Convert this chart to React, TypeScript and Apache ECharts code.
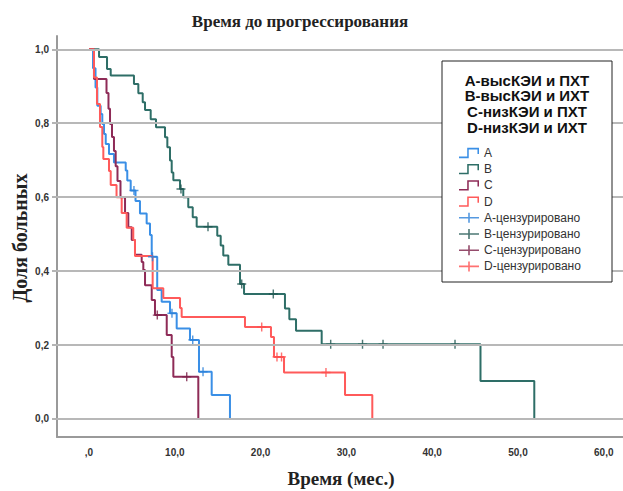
import React, { useEffect, useRef } from 'react';
import * as echarts from 'echarts';

const xTicks = [0, 10, 20, 30, 40, 50, 60];
const yTicks = [0, 0.2, 0.4, 0.6, 0.8, 1.0];

const legendHeader = ['A-высКЭИ и ПХТ', 'B-высКЭИ и ИХТ', 'C-низКЭИ и ПХТ', 'D-низКЭИ и ИХТ'];
const groupNames = ['A', 'B', 'C', 'D'];
const censorNames = ['A-цензурировано', 'B-цензурировано', 'C-цензурировано', 'D-цензурировано'];

const curveA: [number, number][] = [
  [0, 1], [0.47, 0.949], [0.76, 0.897], [0.97, 0.847], [1.36, 0.825], [1.55, 0.798], [1.75, 0.771],
  [1.95, 0.744], [2.33, 0.717], [2.91, 0.694], [4.28, 0.672], [4.46, 0.645], [4.86, 0.618], [5.42, 0.59],
  [5.94, 0.556], [6.72, 0.529], [7.11, 0.498], [7.31, 0.439], [7.95, 0.349], [8.47, 0.317], [9.44, 0.286],
  [10.22, 0.245], [11.77, 0.214], [12.82, 0.128], [14.3, 0.065], [16.43, 0],
];
const censorA: [number, number][] = [[5.24, 0.618], [7.4, 0.439], [9.67, 0.286], [12.09, 0.214], [13.29, 0.128]];

const curveB: [number, number][] = [
  [0, 1], [1.17, 0.979], [2.1, 0.947], [2.53, 0.929], [5.24, 0.906], [5.75, 0.881], [6.26, 0.857], [6.53, 0.836],
  [7.19, 0.811], [7.81, 0.789], [8.86, 0.762], [9.13, 0.735], [9.44, 0.699], [9.64, 0.667], [9.83, 0.646],
  [10.61, 0.622], [10.99, 0.6], [11.57, 0.573], [12.09, 0.546], [12.55, 0.52], [14.95, 0.496], [15.35, 0.469],
  [15.65, 0.442], [16.24, 0.417], [17.6, 0.365], [18.07, 0.338], [22.84, 0.299], [23.35, 0.27], [24.13, 0.239],
  [27.12, 0.202], [45.63, 0.103], [51.9, 0],
];
const censorB: [number, number][] = [
  [10.72, 0.622], [13.87, 0.52], [17.8, 0.365], [21.48, 0.338], [28.17, 0.202], [31.88, 0.202], [34.27, 0.202], [42.66, 0.202],
];

const curveC: [number, number][] = [
  [0, 1], [0.58, 0.92], [2.04, 0.882], [2.27, 0.839], [2.45, 0.798], [2.68, 0.763], [2.91, 0.725], [3.11, 0.684],
  [3.32, 0.644], [3.67, 0.6], [4.2, 0.557], [4.58, 0.519], [4.98, 0.484], [5.36, 0.444], [6.14, 0.425],
  [6.33, 0.403], [6.53, 0.362], [7.31, 0.322], [7.69, 0.281], [9.06, 0.227], [9.64, 0.168], [9.83, 0.114], [12.74, 0],
];
const censorC: [number, number][] = [[7.96, 0.281], [11.39, 0.114]];

const curveD: [number, number][] = [
  [0, 1], [0.58, 0.924], [0.93, 0.852], [1.28, 0.79], [1.55, 0.736], [1.67, 0.703], [2.33, 0.671], [2.53, 0.633],
  [3.21, 0.6], [3.81, 0.557], [4.39, 0.517], [5.16, 0.484], [5.36, 0.441], [7.42, 0.354], [8.66, 0.327],
  [10.61, 0.3], [10.8, 0.276], [18.18, 0.249], [21.21, 0.222], [21.56, 0.168], [22.73, 0.126], [29.84, 0.065], [33.02, 0],
];
const censorD: [number, number][] = [[20.13, 0.249], [21.91, 0.168], [22.44, 0.168], [27.62, 0.126]];

const lineColors = ['#3a8fe6', '#2e6e67', '#8e2b57', '#ff5a5a'];
const censorColors = ['#2a7fd8', '#1f5550', '#7a1f47', '#ff4d4d'];

const stepIcon = 'path://M0,8.5L8,8.5L8,0L19.5,0L19.5,6L18,6L18,1.5L9.5,1.5L9.5,10L0,10Z';
const plusIcon = 'path://M9.2,0L10.8,0L10.8,4.2L20,4.2L20,5.8L10.8,5.8L10.8,10L9.2,10L9.2,5.8L0,5.8L0,4.2L9.2,4.2Z';
const censorSymbol = 'path://M4.2,0L5.8,0L5.8,4.2L10,4.2L10,5.8L5.8,5.8L5.8,10L4.2,10L4.2,5.8L0,5.8L0,4.2L4.2,4.2Z';

const fmt = (v: number, axis: 'x' | 'y') => {
  const s = v.toFixed(1).replace('.', ',');
  if (axis === 'x' && v === 0) return ',0';
  return s;
};

export default function App() {
  const ref = useRef<HTMLDivElement>(null);
  useEffect(() => {
    const chart = echarts.init(ref.current!, null, { renderer: 'svg' });
    const curves = [curveA, curveB, curveC, curveD];
    const censors = [censorA, censorB, censorC, censorD];
    const serif = '"Liberation Serif", "DejaVu Serif", serif';
    const sans = '"Liberation Sans", Arial, sans-serif';
    const option: any = {
      animation: false,
      backgroundColor: '#ffffff',
      grid: { left: 57, right: 0, top: 36, bottom: 54, containLabel: false },
      xAxis: {
        type: 'value', min: -3.73, max: 62.24,
        axisLine: { show: true, onZero: false, lineStyle: { color: '#9a9a9a', width: 2 } },
        axisTick: { show: false },
        splitLine: { show: false },
        axisLabel: {
          customValues: xTicks, margin: 10, fontSize: 10, fontWeight: 'bold', color: '#333', fontFamily: sans,
          formatter: (v: number) => fmt(v, 'x'),
        },
      },
      yAxis: {
        type: 'value', min: -0.0487, max: 1.036,
        axisLine: { show: true, onZero: false, lineStyle: { color: '#9a9a9a', width: 2 } },
        axisTick: { show: true, customValues: yTicks, length: 5, lineStyle: { color: '#b5b5b5', width: 2 } },
        splitLine: { show: false },
        axisLabel: {
          customValues: yTicks, margin: 8, fontSize: 10, fontWeight: 'bold', color: '#333', fontFamily: sans,
          formatter: (v: number) => fmt(v, 'y'),
        },
      },
      legend: {
        orient: 'vertical', left: 454, top: 142, itemGap: 4.2, itemWidth: 20, itemHeight: 12,
        textStyle: { fontSize: 12, color: '#333', fontFamily: sans },
        z: 20,
        data: [
          ...groupNames.map((n) => ({ name: n, icon: stepIcon })),
          ...censorNames.map((n) => ({ name: n, icon: plusIcon })),
        ],
      },
      graphic: [
        {
          type: 'rect', z: 10,
          shape: { x: 442, y: 61, width: 170, height: 221 },
          style: { fill: '#ffffff', stroke: '#222', lineWidth: 1 },
        },
        ...legendHeader.map((t, i) => ({
          type: 'text', z: 11, x: 527, y: 80 + i * 15.7,
          style: { text: t, align: 'center', verticalAlign: 'middle', textAlign: 'center', textVerticalAlign: 'middle', font: `bold 15px ${sans}`, fill: '#111' },
        })),
        {
          type: 'text', z: 11, x: 300, y: 21,
          style: { text: 'Время до прогрессирования', align: 'center', verticalAlign: 'middle', textAlign: 'center', textVerticalAlign: 'middle', font: `bold 17px ${serif}`, fill: '#222' },
        },
        {
          type: 'text', z: 11, x: 341, y: 478,
          style: { text: 'Время (мес.)', align: 'center', verticalAlign: 'middle', textAlign: 'center', textVerticalAlign: 'middle', font: `bold 19px ${serif}`, fill: '#222' },
        },
        {
          type: 'text', z: 11, x: 20, y: 238, rotation: Math.PI / 2,
          style: { text: 'Доля больных', align: 'center', verticalAlign: 'middle', textAlign: 'center', textVerticalAlign: 'middle', font: `bold 20px ${serif}`, fill: '#222' },
        },
      ],
      series: [
        {
          name: 'gridlines', type: 'line', data: [], z: 1, silent: true,
          markLine: {
            silent: true, symbol: 'none', label: { show: false },
            lineStyle: { color: '#b8b8b8', width: 2, type: 'solid' },
            data: yTicks.map((v) => ({ yAxis: v })),
          },
        },
        ...groupNames.map((n, i) => ({
          name: n, type: 'line', step: 'end', symbol: 'none', showSymbol: false, z: 3,
          data: curves[i],
          lineStyle: { color: lineColors[i], width: 2 },
          itemStyle: { color: lineColors[i] },
        })),
        ...censorNames.map((n, i) => ({
          name: n, type: 'scatter', symbol: censorSymbol, symbolSize: 9, z: 4,
          data: censors[i],
          itemStyle: { color: censorColors[i] },
        })),
      ],
    };
    chart.setOption(option);
    return () => chart.dispose();
  }, []);
  return <div ref={ref} style={{ position: 'absolute', left: 0, top: 0, width: 623, height: 491 }} />;
}
